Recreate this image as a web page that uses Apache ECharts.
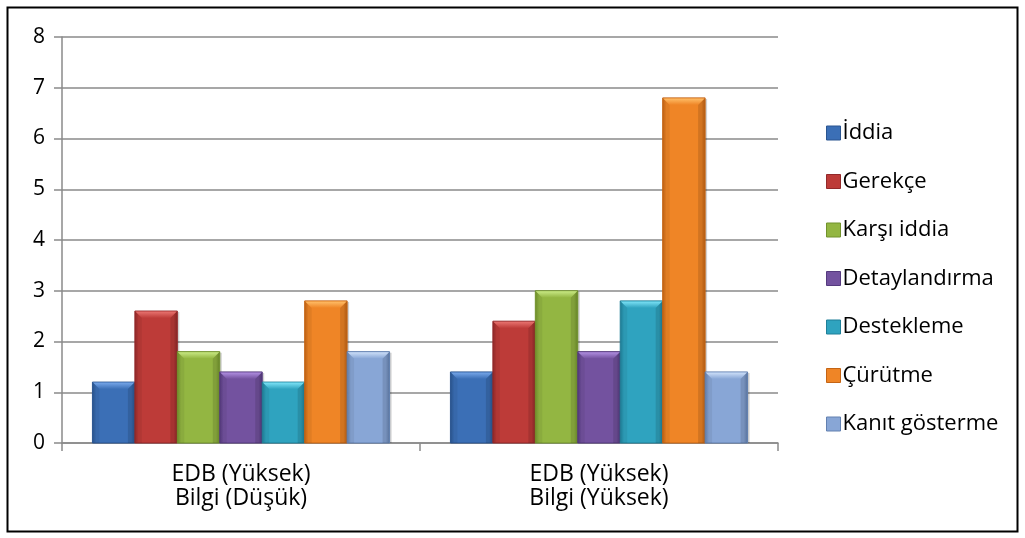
<!DOCTYPE html>
<html>
<head>
<meta charset="utf-8">
<script src="https://cdn.jsdelivr.net/npm/echarts@6/dist/echarts.min.js"></script>
<style>
  html, body { margin: 0; padding: 0; background: #fff; }
  #chart { width: 1025px; height: 538px; }
</style>
</head>
<body>
<div id="chart"></div>
<script>
// Categories along the x axis (two lines each)
const categories = ['EDB (Yüksek)\nBilgi (Düşük)', 'EDB (Yüksek)\nBilgi (Yüksek)'];

// Series names and values per category
const seriesNames = ['İddia', 'Gerekçe', 'Karşı iddia', 'Detaylandırma', 'Destekleme', 'Çürütme', 'Kanıt gösterme'];
const iddia         = [1.2, 1.4];
const gerekce       = [2.6, 2.4];
const karsiIddia    = [1.8, 3.0];
const detaylandirma = [1.4, 1.8];
const destekleme    = [1.2, 2.8];
const curutme       = [2.8, 6.8];
const kanitGosterme = [1.8, 1.4];

// Y axis range
const yMin = 0, yMax = 8, yStep = 1;

const seriesValues = [iddia, gerekce, karsiIddia, detaylandirma, destekleme, curutme, kanitGosterme];

// Colour sets: body, darker edge, light bevel
const palette = [
  { mid: '#3b6fb6', edge: '#2a5590', top: '#76a6e8' },
  { mid: '#bd3b38', edge: '#92292a', top: '#e8736f' },
  { mid: '#93b642', edge: '#71922c', top: '#c8e884' },
  { mid: '#73529f', edge: '#553a7e', top: '#b08ee0' },
  { mid: '#2fa3bf', edge: '#1f7f98', top: '#7ce2f6' },
  { mid: '#ef8526', edge: '#c46414', top: '#ffbe68' },
  { mid: '#88a6d6', edge: '#6280b0', top: '#cddff8' }
];

const GAP = 0.17;       // share of category width left empty
const BEVEL = 7;        // bevel depth in px
const N = seriesNames.length;

function makeRenderer(si) {
  const c = palette[si];
  return function (params, api) {
    const cat = api.value(0);
    const val = api.value(1);
    const catW = api.size([1, 0])[0];
    const groupW = catW * (1 - GAP);
    const bw = groupW / N;
    const base = api.coord([cat, 0]);
    const topP = api.coord([cat, val]);
    const x = base[0] - groupW / 2 + si * bw;
    const y = topP[1];
    const h = base[1] - topP[1];
    const b = Math.min(BEVEL, h / 2, bw / 3);
    return {
      type: 'group',
      children: [
        { // soft shadow on the right
          type: 'rect',
          shape: { x: x + 2, y: y + 1, width: bw, height: h - 1 },
          style: { fill: 'rgba(0,0,0,0.18)' },
          z2: 0
        },
        { // body
          type: 'rect',
          shape: { x: x, y: y, width: bw, height: h },
          style: {
            fill: new echarts.graphic.LinearGradient(0, 0, 1, 0, [
              { offset: 0, color: c.edge },
              { offset: 0.1, color: c.mid },
              { offset: 0.9, color: c.mid },
              { offset: 1, color: c.edge }
            ]),
            stroke: c.edge, lineWidth: 1
          },
          z2: 1
        },
        { // top bevel
          type: 'polygon',
          shape: { points: [[x + 0.5, y + 0.5], [x + bw - 0.5, y + 0.5], [x + bw - b, y + b], [x + b, y + b]] },
          style: {
            fill: new echarts.graphic.LinearGradient(0, 0, 0, 1, [
              { offset: 0, color: c.top },
              { offset: 1, color: c.mid }
            ])
          },
          z2: 2
        },
        { // left bevel
          type: 'polygon',
          shape: { points: [[x + 0.5, y + 0.5], [x + b, y + b], [x + b, y + h], [x + 0.5, y + h]] },
          style: { fill: 'rgba(0,0,0,0.06)' },
          z2: 2
        },
        { // right bevel
          type: 'polygon',
          shape: { points: [[x + bw - 0.5, y + 0.5], [x + bw - b, y + b], [x + bw - b, y + h], [x + bw - 0.5, y + h]] },
          style: { fill: 'rgba(0,0,0,0.12)' },
          z2: 2
        }
      ]
    };
  };
}

const chart = echarts.init(document.getElementById('chart'), null, { renderer: 'canvas' });

const series = seriesNames.map((name, i) => ({
  name: name,
  type: 'custom',
  renderItem: makeRenderer(i),
  encode: { x: 0, y: 1 },
  itemStyle: { color: palette[i].mid },
  data: seriesValues[i].map((v, k) => [k, v])
}));

const FONT = 'Open Sans';

chart.setOption({
  animation: false,
  backgroundColor: '#fff',
  textStyle: { fontFamily: FONT },
  graphic: [{
    type: 'rect',
    shape: { x: 7.5, y: 7.5, width: 1010, height: 524 },
    style: { fill: 'none', stroke: '#000', lineWidth: 2 },
    z: 100
  }],
  grid: { left: 62, right: 247, top: 37, bottom: 95, containLabel: false },
  legend: {
    orient: 'vertical',
    left: 821,
    top: 117,
    itemWidth: 14,
    itemHeight: 14,
    itemGap: 26.5,
    icon: 'rect',
    textStyle: { fontSize: 22, lineHeight: 22, color: '#000', fontFamily: FONT, padding: [0, 0, 0, -3] },
    data: seriesNames.map((n, i) => ({
      name: n,
      itemStyle: { color: palette[i].mid, borderColor: palette[i].edge, borderWidth: 1 }
    }))
  },
  xAxis: {
    type: 'category',
    data: categories,
    axisLine: { lineStyle: { color: '#8a8a8a', width: 1.5 } },
    axisTick: { show: true, length: 8, lineStyle: { color: '#8a8a8a', width: 1.5 } },
    axisLabel: { color: '#000', fontSize: 23, lineHeight: 24, margin: 19, fontFamily: FONT }
  },
  yAxis: {
    type: 'value',
    min: yMin,
    max: yMax,
    interval: yStep,
    axisLine: { show: true, lineStyle: { color: '#8a8a8a', width: 1.5 } },
    axisTick: { show: true, length: 8, lineStyle: { color: '#8a8a8a', width: 1.5 } },
    splitLine: { lineStyle: { color: '#8a8a8a', width: 1.5 } },
    axisLabel: { color: '#000', fontSize: 21, margin: 17, fontFamily: FONT }
  },
  series: series
});
</script>
</body>
</html>
